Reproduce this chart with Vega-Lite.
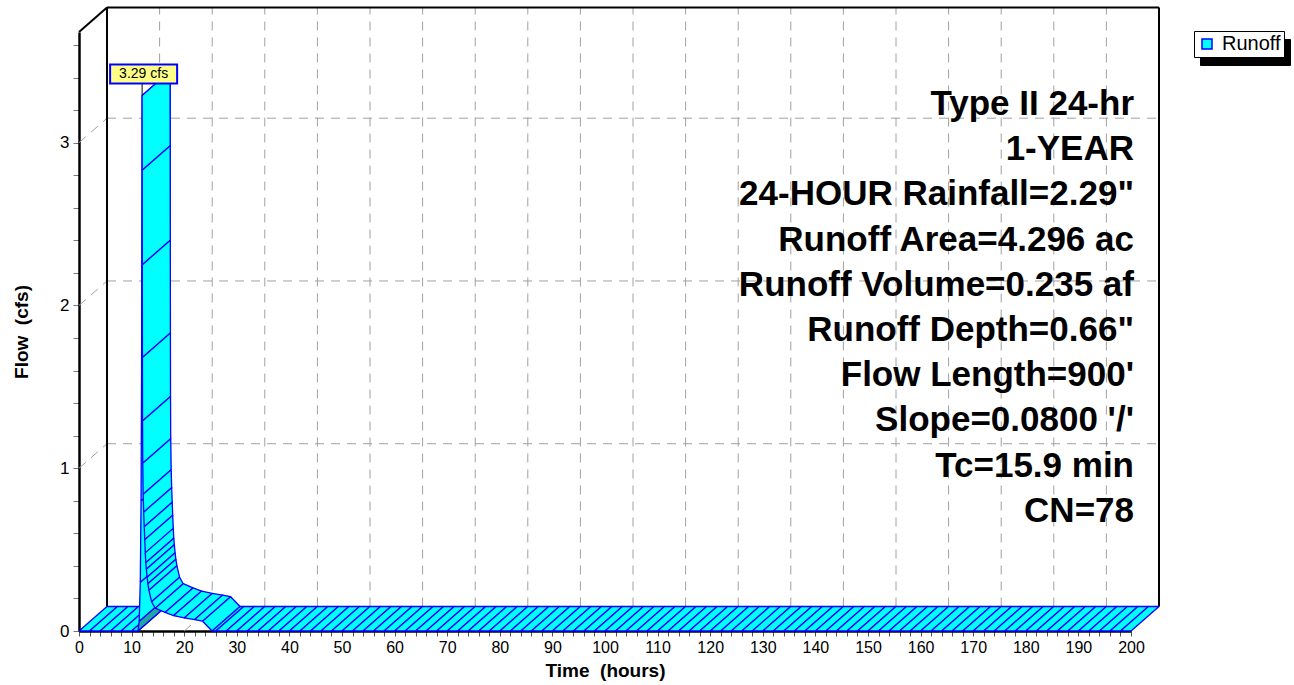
{
  "$schema": "https://vega.github.io/schema/vega-lite/v6.json",
  "width": 1052,
  "height": 599,
  "autosize": "none",
  "padding": {"left": 79, "top": 32, "right": 163, "bottom": 54},
  "background": "white",
  "config": {
    "view": {"stroke": null},
    "font": "Liberation Sans",
    "axis": {"labelFont": "Liberation Sans", "titleFont": "Liberation Sans"},
    "legend": {"labelFont": "Liberation Sans"}
  },
  "resolve": {"axis": {"x": "independent", "y": "independent"}},
  "datasets": {
    "hydro": [
      {"t": 0, "q": 0}, {"t": 2, "q": 0}, {"t": 4, "q": 0}, {"t": 6, "q": 0}, {"t": 8, "q": 0}, {"t": 10, "q": 0},
      {"t": 11.2, "q": 0}, {"t": 11.45, "q": 0.06}, {"t": 11.65, "q": 0.3}, {"t": 11.8, "q": 0.8}, {"t": 11.9, "q": 1.6}, {"t": 12.0, "q": 3.29},
      {"t": 12.02, "q": 2.83}, {"t": 12.04, "q": 2.25}, {"t": 12.06, "q": 1.68}, {"t": 12.08, "q": 1.29}, {"t": 12.12, "q": 1.03},
      {"t": 12.2, "q": 0.84}, {"t": 12.3, "q": 0.73}, {"t": 12.4, "q": 0.64}, {"t": 12.5, "q": 0.56}, {"t": 12.6, "q": 0.48},
      {"t": 12.7, "q": 0.42}, {"t": 12.8, "q": 0.38}, {"t": 12.95, "q": 0.33}, {"t": 13.1, "q": 0.29}, {"t": 13.3, "q": 0.25},
      {"t": 13.8, "q": 0.18}, {"t": 14.5, "q": 0.14}, {"t": 16.35, "q": 0.114}, {"t": 18.0, "q": 0.095}, {"t": 20.0, "q": 0.08},
      {"t": 22.0, "q": 0.07}, {"t": 23.5, "q": 0.06}, {"t": 25.3, "q": 0},
      {"t": 26, "q": 0}, {"t": 28, "q": 0}, {"t": 30, "q": 0}, {"t": 32, "q": 0}, {"t": 34, "q": 0}, {"t": 36, "q": 0},
      {"t": 38, "q": 0}, {"t": 40, "q": 0}, {"t": 42, "q": 0}, {"t": 44, "q": 0}, {"t": 46, "q": 0}, {"t": 48, "q": 0},
      {"t": 50, "q": 0}, {"t": 52, "q": 0}, {"t": 54, "q": 0}, {"t": 56, "q": 0}, {"t": 58, "q": 0}, {"t": 60, "q": 0},
      {"t": 62, "q": 0}, {"t": 64, "q": 0}, {"t": 66, "q": 0}, {"t": 68, "q": 0}, {"t": 70, "q": 0}, {"t": 72, "q": 0},
      {"t": 74, "q": 0}, {"t": 76, "q": 0}, {"t": 78, "q": 0}, {"t": 80, "q": 0}, {"t": 82, "q": 0}, {"t": 84, "q": 0},
      {"t": 86, "q": 0}, {"t": 88, "q": 0}, {"t": 90, "q": 0}, {"t": 92, "q": 0}, {"t": 94, "q": 0}, {"t": 96, "q": 0},
      {"t": 98, "q": 0}, {"t": 100, "q": 0}, {"t": 102, "q": 0}, {"t": 104, "q": 0}, {"t": 106, "q": 0}, {"t": 108, "q": 0},
      {"t": 110, "q": 0}, {"t": 112, "q": 0}, {"t": 114, "q": 0}, {"t": 116, "q": 0}, {"t": 118, "q": 0}, {"t": 120, "q": 0},
      {"t": 122, "q": 0}, {"t": 124, "q": 0}, {"t": 126, "q": 0}, {"t": 128, "q": 0}, {"t": 130, "q": 0}, {"t": 132, "q": 0},
      {"t": 134, "q": 0}, {"t": 136, "q": 0}, {"t": 138, "q": 0}, {"t": 140, "q": 0}, {"t": 142, "q": 0}, {"t": 144, "q": 0},
      {"t": 146, "q": 0}, {"t": 148, "q": 0}, {"t": 150, "q": 0}, {"t": 152, "q": 0}, {"t": 154, "q": 0}, {"t": 156, "q": 0},
      {"t": 158, "q": 0}, {"t": 160, "q": 0}, {"t": 162, "q": 0}, {"t": 164, "q": 0}, {"t": 166, "q": 0}, {"t": 168, "q": 0},
      {"t": 170, "q": 0}, {"t": 172, "q": 0}, {"t": 174, "q": 0}, {"t": 176, "q": 0}, {"t": 178, "q": 0}, {"t": 180, "q": 0},
      {"t": 182, "q": 0}, {"t": 184, "q": 0}, {"t": 186, "q": 0}, {"t": 188, "q": 0}, {"t": 190, "q": 0}, {"t": 192, "q": 0},
      {"t": 194, "q": 0}, {"t": 196, "q": 0}, {"t": 198, "q": 0}, {"t": 200, "q": 0}
    ],
    "hours": [
      {"t": 10}, {"t": 20}, {"t": 30}, {"t": 40}, {"t": 50}, {"t": 60}, {"t": 70}, {"t": 80}, {"t": 90}, {"t": 100},
      {"t": 110}, {"t": 120}, {"t": 130}, {"t": 140}, {"t": 150}, {"t": 160}, {"t": 170}, {"t": 180}, {"t": 190}, {"t": 200}
    ],
    "flows": [{"q": 1}, {"q": 2}, {"q": 3}],
    "peak": [{"t": 12.0, "q": 3.29, "label": "3.29 cfs"}],
    "one": [{"k": 1}]
  },
  "layer": [
    {
      "data": {"name": "flows"},
      "mark": {"type": "point", "opacity": 0},
      "encoding": {
        "x": {
          "field": "q", "type": "quantitative",
          "scale": {"domain": [0, 200], "nice": false, "zero": false},
          "axis": {
            "orient": "bottom",
            "values": [0,2,4,6,8,10,12,14,16,18,20,22,24,26,28,30,32,34,36,38,40,42,44,46,48,50,52,54,56,58,60,62,64,66,68,70,72,74,76,78,80,82,84,86,88,90,92,94,96,98,100,102,104,106,108,110,112,114,116,118,120,122,124,126,128,130,132,134,136,138,140,142,144,146,148,150,152,154,156,158,160,162,164,166,168,170,172,174,176,178,180,182,184,186,188,190,192,194,196,198,200],
            "labelExpr": "datum.value % 10 === 0 ? format(datum.value, 'd') : ''",
            "grid": false,
            "domainColor": "black", "domainWidth": 2.5,
            "tickColor": "#555555", "tickSize": 5, "tickWidth": 1,
            "labelFontSize": 16, "labelColor": "black", "labelPadding": 3, "labelOverlap": false, "labelFlush": false,
            "title": "Time \u00a0(hours)", "titleFontSize": 19, "titleFontWeight": "bold", "titleColor": "black", "titlePadding": 6
          }
        },
        "y": {
          "field": "q", "type": "quantitative",
          "scale": {"domain": [0, 3.68], "nice": false, "zero": false},
          "axis": {
            "orient": "left",
            "values": [0,0.2,0.4,0.6,0.8,1,1.2,1.4,1.6,1.8,2,2.2,2.4,2.6,2.8,3,3.2,3.4,3.6],
            "labelExpr": "datum.value % 1 === 0 ? format(datum.value, 'd') : ''",
            "grid": false,
            "domainColor": "black", "domainWidth": 2.5,
            "tickColor": "#777777", "tickSize": 6, "tickWidth": 1,
            "labelFontSize": 17, "labelColor": "black", "labelPadding": 4, "labelOverlap": false, "labelFlush": false,
            "title": "Flow \u00a0(cfs)", "titleFontSize": 19, "titleFontWeight": "bold", "titleColor": "black", "titlePadding": 28
          }
        }
      }
    },
    {
      "data": {"name": "hours"},
      "mark": {"type": "rule", "stroke": "#a0a0a0", "strokeWidth": 1, "strokeDash": [9, 7], "xOffset": 28, "yOffset": -24.5, "y2Offset": -24.5},
      "encoding": {
        "x": {"field": "t", "type": "quantitative", "scale": {"domain": [0, 200], "nice": false, "zero": false}, "axis": null},
        "y": {"datum": 0, "type": "quantitative", "scale": {"domain": [0, 3.68], "nice": false, "zero": false}, "axis": null},
        "y2": {"datum": 3.68}
      }
    },
    {
      "data": {"name": "flows"},
      "mark": {"type": "rule", "stroke": "#a0a0a0", "strokeWidth": 1, "strokeDash": [9, 7], "xOffset": 28, "x2Offset": 28, "yOffset": -24.5},
      "encoding": {
        "y": {"field": "q", "type": "quantitative", "scale": {"domain": [0, 3.68], "nice": false, "zero": false}, "axis": null},
        "x": {"datum": 0, "type": "quantitative", "scale": {"domain": [0, 200], "nice": false, "zero": false}, "axis": null},
        "x2": {"datum": 200}
      }
    },
    {
      "data": {"name": "flows"},
      "mark": {"type": "rule", "stroke": "#a0a0a0", "strokeWidth": 1, "strokeDash": [9, 7], "x2Offset": 28, "y2Offset": -24.5},
      "encoding": {
        "y": {"field": "q", "type": "quantitative", "scale": {"domain": [0, 3.68], "nice": false, "zero": false}, "axis": null},
        "y2": {"field": "q"},
        "x": {"datum": 0, "type": "quantitative", "scale": {"domain": [0, 200], "nice": false, "zero": false}, "axis": null},
        "x2": {"datum": 0}
      }
    },
    {
      "data": {"name": "hours"},
      "mark": {"type": "rule", "stroke": "#a0a0a0", "strokeWidth": 1, "strokeDash": [9, 7], "x2Offset": 28, "y2Offset": -24.5},
      "encoding": {
        "x": {"field": "t", "type": "quantitative", "scale": {"domain": [0, 200], "nice": false, "zero": false}, "axis": null},
        "x2": {"field": "t"},
        "y": {"datum": 0, "type": "quantitative", "scale": {"domain": [0, 3.68], "nice": false, "zero": false}, "axis": null},
        "y2": {"datum": 0}
      }
    },
    {
      "data": {"values": [{"t": 0}, {"t": 200}]},
      "mark": {"type": "rule", "stroke": "black", "strokeWidth": 2, "xOffset": 28, "yOffset": -24.5, "y2Offset": -24.5},
      "encoding": {
        "x": {"field": "t", "type": "quantitative", "scale": {"domain": [0, 200], "nice": false, "zero": false}, "axis": null},
        "y": {"datum": 0, "type": "quantitative", "scale": {"domain": [0, 3.68], "nice": false, "zero": false}, "axis": null},
        "y2": {"datum": 3.68}
      }
    },
    {
      "data": {"name": "one"},
      "mark": {"type": "rule", "stroke": "black", "strokeWidth": 2, "xOffset": 28, "x2Offset": 28, "yOffset": -24.5},
      "encoding": {
        "x": {"datum": 0, "type": "quantitative", "scale": {"domain": [0, 200], "nice": false, "zero": false}, "axis": null},
        "x2": {"datum": 200},
        "y": {"datum": 3.68, "type": "quantitative", "scale": {"domain": [0, 3.68], "nice": false, "zero": false}, "axis": null}
      }
    },
    {
      "data": {"name": "one"},
      "mark": {"type": "rule", "stroke": "black", "strokeWidth": 2, "x2Offset": 28, "y2Offset": -24.5},
      "encoding": {
        "x": {"datum": 0, "type": "quantitative", "scale": {"domain": [0, 200], "nice": false, "zero": false}, "axis": null},
        "x2": {"datum": 0},
        "y": {"datum": 3.68, "type": "quantitative", "scale": {"domain": [0, 3.68], "nice": false, "zero": false}, "axis": null},
        "y2": {"datum": 3.68}
      }
    },
    {
      "data": {"name": "hydro"},
      "transform": [
        {"window": [{"op": "lead", "field": "t", "as": "t2"}, {"op": "lead", "field": "q", "as": "q2"}], "sort": [{"field": "t", "order": "ascending"}]},
        {"filter": "isValid(datum.t2)"},
        {"calculate": "datum.q == 0 && datum.q2 > 0 ? 'under' : 'top'", "as": "face"},
        {"calculate": "[0,1,2,3,4]", "as": "v"},
        {"flatten": ["v"]},
        {"calculate": "(datum.v == 1 || datum.v == 2 ? datum.t2 : datum.t) + (datum.v == 2 || datum.v == 3 ? 5.32 : 0)", "as": "px"},
        {"calculate": "(datum.v == 1 || datum.v == 2 ? datum.q2 : datum.q) + (datum.v == 2 || datum.v == 3 ? 0.1505 : 0)", "as": "py"}
      ],
      "mark": {"type": "line", "stroke": "#0000FF", "strokeWidth": 1.3, "strokeJoin": "round"},
      "encoding": {
        "x": {"field": "px", "type": "quantitative", "scale": {"domain": [0, 200], "nice": false, "zero": false}, "axis": null},
        "y": {"field": "py", "type": "quantitative", "scale": {"domain": [0, 3.68], "nice": false, "zero": false}, "axis": null},
        "detail": {"field": "t", "type": "nominal"},
        "order": {"field": "v", "type": "quantitative"},
        "fill": {"field": "face", "type": "nominal", "scale": {"domain": ["top", "under"], "range": ["#00FFFF", "#20A8A0"]}, "legend": null}
      }
    },
    {
      "data": {"name": "peak"},
      "mark": {"type": "rule", "stroke": "black", "strokeWidth": 1, "y2Offset": -12},
      "encoding": {
        "x": {"field": "t", "type": "quantitative", "scale": {"domain": [0, 200], "nice": false, "zero": false}, "axis": null},
        "y": {"field": "q", "type": "quantitative", "scale": {"domain": [0, 3.68], "nice": false, "zero": false}, "axis": null},
        "y2": {"field": "q"}
      }
    },
    {
      "data": {"name": "peak"},
      "mark": {"type": "rect", "fill": "#FFFF88", "stroke": "#0000FF", "strokeWidth": 2, "xOffset": -32, "x2Offset": 35, "yOffset": -12, "y2Offset": -31},
      "encoding": {
        "x": {"field": "t", "type": "quantitative", "scale": {"domain": [0, 200], "nice": false, "zero": false}, "axis": null},
        "x2": {"field": "t"},
        "y": {"field": "q", "type": "quantitative", "scale": {"domain": [0, 3.68], "nice": false, "zero": false}, "axis": null},
        "y2": {"field": "q"}
      }
    },
    {
      "data": {"name": "peak"},
      "mark": {"type": "text", "fontSize": 14, "font": "Liberation Sans", "color": "black", "align": "center", "baseline": "middle", "dx": 1.5, "dy": -21},
      "encoding": {
        "x": {"field": "t", "type": "quantitative", "scale": {"domain": [0, 200], "nice": false, "zero": false}, "axis": null},
        "y": {"field": "q", "type": "quantitative", "scale": {"domain": [0, 3.68], "nice": false, "zero": false}, "axis": null},
        "text": {"field": "label"}
      }
    },
    {
      "data": {"name": "one"},
      "mark": {
        "type": "text", "align": "right", "baseline": "alphabetic", "dx": 3,
        "font": "Liberation Sans", "fontSize": 35, "fontWeight": "bold", "color": "black", "lineHeight": 45.2,
        "text": ["Type II 24-hr", "1-YEAR", "24-HOUR Rainfall=2.29\"", "Runoff Area=4.296 ac", "Runoff Volume=0.235 af", "Runoff Depth=0.66\"", "Flow Length=900'", "Slope=0.0800 '/'", "Tc=15.9 min", "CN=78"]
      },
      "encoding": {
        "x": {"datum": 200, "type": "quantitative", "scale": {"domain": [0, 200], "nice": false, "zero": false}, "axis": null},
        "y": {"datum": 3.17, "type": "quantitative", "scale": {"domain": [0, 3.68], "nice": false, "zero": false}, "axis": null}
      }
    },
    {
      "data": {"name": "one"},
      "mark": {"type": "point", "opacity": 0, "filled": true},
      "encoding": {
        "x": {"datum": 0, "type": "quantitative", "scale": {"domain": [0, 200], "nice": false, "zero": false}, "axis": null},
        "y": {"datum": 0, "type": "quantitative", "scale": {"domain": [0, 3.68], "nice": false, "zero": false}, "axis": null},
        "color": {
          "datum": "Runoff", "type": "nominal",
          "scale": {"range": ["#00FFFF"]},
          "legend": {
            "orient": "none", "legendX": 1115, "legendY": -1, "title": null,
            "symbolType": "square", "symbolSize": 100, "symbolFillColor": "#00FFFF", "symbolStrokeColor": "#0000FF", "symbolStrokeWidth": 1.5, "symbolOpacity": 1,
            "labelFontSize": 20, "labelColor": "black", "labelOffset": 5,
            "fillColor": "white", "strokeColor": "black", "padding": 3, "zindex": 2
          }
        },
        "shape": {
          "datum": "shadow", "type": "nominal",
          "scale": {"range": ["square"]},
          "legend": {
            "orient": "none", "legendX": 1121, "legendY": 7, "title": null,
            "labelExpr": "''",
            "symbolType": "square", "symbolSize": 100, "symbolFillColor": "black", "symbolStrokeColor": "black", "symbolStrokeWidth": 1.5, "symbolOpacity": 1,
            "labelFontSize": 20, "labelColor": "black", "labelOffset": 64,
            "fillColor": "black", "strokeColor": "black", "padding": 3, "zindex": 1
          }
        }
      }
    }
  ]
}
